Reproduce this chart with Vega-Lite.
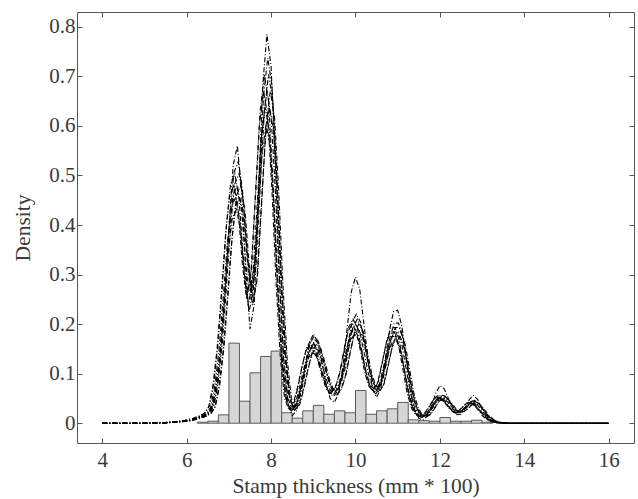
{
"$schema": "https://vega.github.io/schema/vega-lite/v6.json",
"width": 557, "height": 431,
"autosize": {"type": "none"},
"padding": {"left": 77, "top": 12, "right": 4, "bottom": 56},
"background": "white",
"datasets": {
"bars": [
{"x0":6.25,"x1":6.5,"d":0.002},{"x0":6.5,"x1":6.75,"d":0.004},{"x0":6.75,"x1":7.0,"d":0.0168},{"x0":7.0,"x1":7.25,"d":0.1616},{"x0":7.25,"x1":7.5,"d":0.0444},{"x0":7.5,"x1":7.75,"d":0.1017},{"x0":7.75,"x1":8.0,"d":0.1347},{"x0":8.0,"x1":8.25,"d":0.1455},{"x0":8.25,"x1":8.5,"d":0.021},{"x0":8.5,"x1":8.75,"d":0.0101},{"x0":8.75,"x1":9.0,"d":0.0249},{"x0":9.0,"x1":9.25,"d":0.036},{"x0":9.25,"x1":9.5,"d":0.018},{"x0":9.5,"x1":9.75,"d":0.025},{"x0":9.75,"x1":10.0,"d":0.021},{"x0":10.0,"x1":10.25,"d":0.066},{"x0":10.25,"x1":10.5,"d":0.018},{"x0":10.5,"x1":10.75,"d":0.025},{"x0":10.75,"x1":11.0,"d":0.029},{"x0":11.0,"x1":11.25,"d":0.042},{"x0":11.25,"x1":11.5,"d":0.0067},{"x0":11.5,"x1":11.75,"d":0.005},{"x0":11.75,"x1":12.0,"d":0.004},{"x0":12.0,"x1":12.25,"d":0.0115},{"x0":12.25,"x1":12.5,"d":0.004},{"x0":12.5,"x1":12.75,"d":0.004},{"x0":12.75,"x1":13.0,"d":0.006},{"x0":13.0,"x1":13.25,"d":0.002}
],
"curves": [
{"c":1,"x":4,"y":0},{"c":1,"x":5,"y":0},{"c":1,"x":5.5,"y":0.001},{"c":1,"x":5.8,"y":0.003},{"c":1,"x":6,"y":0.005},{"c":1,"x":6.2,"y":0.009},{"c":1,"x":6.4,"y":0.015},
{"c":1,"x":6.5,"y":0.02},{"c":1,"x":6.6,"y":0.033},{"c":1,"x":6.7,"y":0.075},{"c":1,"x":6.8,"y":0.15},{"c":1,"x":6.9,"y":0.26},{"c":1,"x":7,"y":0.38},{"c":1,"x":7.1,"y":0.46},{"c":1,"x":7.2,"y":0.48},{"c":1,"x":7.3,"y":0.43},{"c":1,"x":7.4,"y":0.32},{"c":1,"x":7.5,"y":0.25},{"c":1,"x":7.6,"y":0.3},{"c":1,"x":7.7,"y":0.45},{"c":1,"x":7.8,"y":0.6},{"c":1,"x":7.9,"y":0.67},{"c":1,"x":8,"y":0.62},{"c":1,"x":8.1,"y":0.47},{"c":1,"x":8.2,"y":0.28},{"c":1,"x":8.3,"y":0.13},{"c":1,"x":8.4,"y":0.05},{"c":1,"x":8.5,"y":0.027},{"c":1,"x":8.6,"y":0.038},{"c":1,"x":8.7,"y":0.07},{"c":1,"x":8.8,"y":0.11},{"c":1,"x":8.9,"y":0.145},{"c":1,"x":9,"y":0.16},{"c":1,"x":9.1,"y":0.15},{"c":1,"x":9.2,"y":0.122},{"c":1,"x":9.3,"y":0.09},{"c":1,"x":9.4,"y":0.067},{"c":1,"x":9.5,"y":0.06},{"c":1,"x":9.6,"y":0.072},{"c":1,"x":9.7,"y":0.1},{"c":1,"x":9.8,"y":0.145},{"c":1,"x":9.9,"y":0.185},{"c":1,"x":10,"y":0.2},{"c":1,"x":10.1,"y":0.185},{"c":1,"x":10.2,"y":0.145},{"c":1,"x":10.3,"y":0.102},{"c":1,"x":10.4,"y":0.074},{"c":1,"x":10.5,"y":0.066},{"c":1,"x":10.6,"y":0.08},{"c":1,"x":10.7,"y":0.118},{"c":1,"x":10.8,"y":0.158},{"c":1,"x":10.9,"y":0.184},{"c":1,"x":11,"y":0.184},{"c":1,"x":11.1,"y":0.158},{"c":1,"x":11.2,"y":0.11},{"c":1,"x":11.3,"y":0.062},{"c":1,"x":11.4,"y":0.032},{"c":1,"x":11.5,"y":0.017},{"c":1,"x":11.6,"y":0.013},{"c":1,"x":11.7,"y":0.018},{"c":1,"x":11.8,"y":0.03},{"c":1,"x":11.9,"y":0.044},{"c":1,"x":12,"y":0.052},{"c":1,"x":12.1,"y":0.05},{"c":1,"x":12.2,"y":0.041},{"c":1,"x":12.3,"y":0.029},{"c":1,"x":12.4,"y":0.022},{"c":1,"x":12.5,"y":0.024},{"c":1,"x":12.6,"y":0.031},{"c":1,"x":12.7,"y":0.039},{"c":1,"x":12.8,"y":0.042},{"c":1,"x":12.9,"y":0.036},{"c":1,"x":13,"y":0.025},{"c":1,"x":13.1,"y":0.014},{"c":1,"x":13.2,"y":0.007},{"c":1,"x":13.3,"y":0.003},{"c":1,"x":13.4,"y":0.001},{"c":1,"x":13.6,"y":0},{"c":1,"x":16,"y":0},

{"c":2,"x":4,"y":0},{"c":2,"x":5.04,"y":0},{"c":2,"x":5.54,"y":0.001},{"c":2,"x":5.84,"y":0.003},{"c":2,"x":6.04,"y":0.005},{"c":2,"x":6.24,"y":0.009},{"c":2,"x":6.44,"y":0.016},
{"c":2,"x":6.54,"y":0.021},{"c":2,"x":6.64,"y":0.035},{"c":2,"x":6.74,"y":0.079},{"c":2,"x":6.84,"y":0.158},{"c":2,"x":6.94,"y":0.273},{"c":2,"x":7.04,"y":0.399},{"c":2,"x":7.14,"y":0.483},{"c":2,"x":7.24,"y":0.504},{"c":2,"x":7.34,"y":0.452},{"c":2,"x":7.44,"y":0.336},{"c":2,"x":7.54,"y":0.263},{"c":2,"x":7.64,"y":0.315},{"c":2,"x":7.74,"y":0.473},{"c":2,"x":7.84,"y":0.63},{"c":2,"x":7.94,"y":0.704},{"c":2,"x":8.04,"y":0.651},{"c":2,"x":8.14,"y":0.494},{"c":2,"x":8.24,"y":0.294},{"c":2,"x":8.34,"y":0.137},{"c":2,"x":8.44,"y":0.053},{"c":2,"x":8.54,"y":0.028},{"c":2,"x":8.64,"y":0.04},{"c":2,"x":8.74,"y":0.074},{"c":2,"x":8.84,"y":0.116},{"c":2,"x":8.94,"y":0.152},{"c":2,"x":9.04,"y":0.168},{"c":2,"x":9.14,"y":0.158},{"c":2,"x":9.24,"y":0.128},{"c":2,"x":9.34,"y":0.095},{"c":2,"x":9.44,"y":0.07},{"c":2,"x":9.54,"y":0.063},{"c":2,"x":9.64,"y":0.076},{"c":2,"x":9.74,"y":0.105},{"c":2,"x":9.84,"y":0.152},{"c":2,"x":9.94,"y":0.194},{"c":2,"x":10.04,"y":0.21},{"c":2,"x":10.14,"y":0.194},{"c":2,"x":10.24,"y":0.152},{"c":2,"x":10.34,"y":0.107},{"c":2,"x":10.44,"y":0.078},{"c":2,"x":10.54,"y":0.069},{"c":2,"x":10.64,"y":0.084},{"c":2,"x":10.74,"y":0.124},{"c":2,"x":10.84,"y":0.166},{"c":2,"x":10.94,"y":0.193},{"c":2,"x":11.04,"y":0.193},{"c":2,"x":11.14,"y":0.166},{"c":2,"x":11.24,"y":0.116},{"c":2,"x":11.34,"y":0.065},{"c":2,"x":11.44,"y":0.034},{"c":2,"x":11.54,"y":0.018},{"c":2,"x":11.64,"y":0.014},{"c":2,"x":11.74,"y":0.019},{"c":2,"x":11.84,"y":0.032},{"c":2,"x":11.94,"y":0.046},{"c":2,"x":12.04,"y":0.055},{"c":2,"x":12.14,"y":0.053},{"c":2,"x":12.24,"y":0.043},{"c":2,"x":12.34,"y":0.03},{"c":2,"x":12.44,"y":0.023},{"c":2,"x":12.54,"y":0.025},{"c":2,"x":12.64,"y":0.033},{"c":2,"x":12.74,"y":0.041},{"c":2,"x":12.84,"y":0.044},{"c":2,"x":12.94,"y":0.038},{"c":2,"x":13.04,"y":0.026},{"c":2,"x":13.14,"y":0.015},{"c":2,"x":13.24,"y":0.007},{"c":2,"x":13.34,"y":0.003},{"c":2,"x":13.44,"y":0.001},{"c":2,"x":13.64,"y":0},{"c":2,"x":16,"y":0},

{"c":3,"x":4,"y":0},{"c":3,"x":4.96,"y":0},{"c":3,"x":5.46,"y":0.001},{"c":3,"x":5.76,"y":0.003},{"c":3,"x":5.96,"y":0.005},{"c":3,"x":6.16,"y":0.009},{"c":3,"x":6.36,"y":0.014},
{"c":3,"x":6.46,"y":0.019},{"c":3,"x":6.56,"y":0.031},{"c":3,"x":6.66,"y":0.071},{"c":3,"x":6.76,"y":0.143},{"c":3,"x":6.86,"y":0.247},{"c":3,"x":6.96,"y":0.361},{"c":3,"x":7.06,"y":0.437},{"c":3,"x":7.16,"y":0.456},{"c":3,"x":7.26,"y":0.409},{"c":3,"x":7.36,"y":0.304},{"c":3,"x":7.46,"y":0.238},{"c":3,"x":7.56,"y":0.285},{"c":3,"x":7.66,"y":0.428},{"c":3,"x":7.76,"y":0.57},{"c":3,"x":7.86,"y":0.637},{"c":3,"x":7.96,"y":0.589},{"c":3,"x":8.06,"y":0.447},{"c":3,"x":8.16,"y":0.266},{"c":3,"x":8.26,"y":0.124},{"c":3,"x":8.36,"y":0.048},{"c":3,"x":8.46,"y":0.026},{"c":3,"x":8.56,"y":0.036},{"c":3,"x":8.66,"y":0.067},{"c":3,"x":8.76,"y":0.105},{"c":3,"x":8.86,"y":0.138},{"c":3,"x":8.96,"y":0.152},{"c":3,"x":9.06,"y":0.143},{"c":3,"x":9.16,"y":0.116},{"c":3,"x":9.26,"y":0.086},{"c":3,"x":9.36,"y":0.064},{"c":3,"x":9.46,"y":0.057},{"c":3,"x":9.56,"y":0.068},{"c":3,"x":9.66,"y":0.095},{"c":3,"x":9.76,"y":0.138},{"c":3,"x":9.86,"y":0.176},{"c":3,"x":9.96,"y":0.19},{"c":3,"x":10.06,"y":0.176},{"c":3,"x":10.16,"y":0.138},{"c":3,"x":10.26,"y":0.097},{"c":3,"x":10.36,"y":0.07},{"c":3,"x":10.46,"y":0.063},{"c":3,"x":10.56,"y":0.076},{"c":3,"x":10.66,"y":0.112},{"c":3,"x":10.76,"y":0.15},{"c":3,"x":10.86,"y":0.175},{"c":3,"x":10.96,"y":0.175},{"c":3,"x":11.06,"y":0.15},{"c":3,"x":11.16,"y":0.105},{"c":3,"x":11.26,"y":0.059},{"c":3,"x":11.36,"y":0.03},{"c":3,"x":11.46,"y":0.016},{"c":3,"x":11.56,"y":0.012},{"c":3,"x":11.66,"y":0.017},{"c":3,"x":11.76,"y":0.029},{"c":3,"x":11.86,"y":0.042},{"c":3,"x":11.96,"y":0.049},{"c":3,"x":12.06,"y":0.048},{"c":3,"x":12.16,"y":0.039},{"c":3,"x":12.26,"y":0.028},{"c":3,"x":12.36,"y":0.021},{"c":3,"x":12.46,"y":0.023},{"c":3,"x":12.56,"y":0.029},{"c":3,"x":12.66,"y":0.037},{"c":3,"x":12.76,"y":0.04},{"c":3,"x":12.86,"y":0.034},{"c":3,"x":12.96,"y":0.024},{"c":3,"x":13.06,"y":0.013},{"c":3,"x":13.16,"y":0.007},{"c":3,"x":13.26,"y":0.003},{"c":3,"x":13.36,"y":0.001},{"c":3,"x":13.56,"y":0},{"c":3,"x":16,"y":0},

{"c":4,"x":4,"y":0},{"c":4,"x":5.08,"y":0},{"c":4,"x":5.58,"y":0.001},{"c":4,"x":5.88,"y":0.003},{"c":4,"x":6.08,"y":0.005},{"c":4,"x":6.28,"y":0.009},{"c":4,"x":6.48,"y":0.015},
{"c":4,"x":6.58,"y":0.02},{"c":4,"x":6.68,"y":0.033},{"c":4,"x":6.78,"y":0.075},{"c":4,"x":6.88,"y":0.15},{"c":4,"x":6.98,"y":0.26},{"c":4,"x":7.08,"y":0.38},{"c":4,"x":7.18,"y":0.46},{"c":4,"x":7.28,"y":0.48},{"c":4,"x":7.38,"y":0.43},{"c":4,"x":7.48,"y":0.32},{"c":4,"x":7.58,"y":0.25},{"c":4,"x":7.68,"y":0.3},{"c":4,"x":7.78,"y":0.45},{"c":4,"x":7.88,"y":0.6},{"c":4,"x":7.98,"y":0.67},{"c":4,"x":8.08,"y":0.62},{"c":4,"x":8.18,"y":0.47},{"c":4,"x":8.28,"y":0.28},{"c":4,"x":8.38,"y":0.13},{"c":4,"x":8.48,"y":0.05},{"c":4,"x":8.58,"y":0.027},{"c":4,"x":8.68,"y":0.038},{"c":4,"x":8.78,"y":0.07},{"c":4,"x":8.88,"y":0.11},{"c":4,"x":8.98,"y":0.145},{"c":4,"x":9.08,"y":0.16},{"c":4,"x":9.18,"y":0.15},{"c":4,"x":9.28,"y":0.122},{"c":4,"x":9.38,"y":0.09},{"c":4,"x":9.48,"y":0.067},{"c":4,"x":9.58,"y":0.06},{"c":4,"x":9.68,"y":0.072},{"c":4,"x":9.78,"y":0.1},{"c":4,"x":9.88,"y":0.145},{"c":4,"x":9.98,"y":0.185},{"c":4,"x":10.08,"y":0.2},{"c":4,"x":10.18,"y":0.185},{"c":4,"x":10.28,"y":0.145},{"c":4,"x":10.38,"y":0.102},{"c":4,"x":10.48,"y":0.074},{"c":4,"x":10.58,"y":0.066},{"c":4,"x":10.68,"y":0.08},{"c":4,"x":10.78,"y":0.118},{"c":4,"x":10.88,"y":0.158},{"c":4,"x":10.98,"y":0.184},{"c":4,"x":11.08,"y":0.184},{"c":4,"x":11.18,"y":0.158},{"c":4,"x":11.28,"y":0.11},{"c":4,"x":11.38,"y":0.062},{"c":4,"x":11.48,"y":0.032},{"c":4,"x":11.58,"y":0.017},{"c":4,"x":11.68,"y":0.013},{"c":4,"x":11.78,"y":0.018},{"c":4,"x":11.88,"y":0.03},{"c":4,"x":11.98,"y":0.044},{"c":4,"x":12.08,"y":0.052},{"c":4,"x":12.18,"y":0.05},{"c":4,"x":12.28,"y":0.041},{"c":4,"x":12.38,"y":0.029},{"c":4,"x":12.48,"y":0.022},{"c":4,"x":12.58,"y":0.024},{"c":4,"x":12.68,"y":0.031},{"c":4,"x":12.78,"y":0.039},{"c":4,"x":12.88,"y":0.042},{"c":4,"x":12.98,"y":0.036},{"c":4,"x":13.08,"y":0.025},{"c":4,"x":13.18,"y":0.014},{"c":4,"x":13.28,"y":0.007},{"c":4,"x":13.38,"y":0.003},{"c":4,"x":13.48,"y":0.001},{"c":4,"x":13.68,"y":0},{"c":4,"x":16,"y":0},

{"c":5,"x":4,"y":0},{"c":5,"x":4.92,"y":0},{"c":5,"x":5.42,"y":0.001},{"c":5,"x":5.72,"y":0.003},{"c":5,"x":5.92,"y":0.005},{"c":5,"x":6.12,"y":0.009},{"c":5,"x":6.32,"y":0.015},
{"c":5,"x":6.42,"y":0.02},{"c":5,"x":6.52,"y":0.033},{"c":5,"x":6.62,"y":0.075},{"c":5,"x":6.72,"y":0.15},{"c":5,"x":6.82,"y":0.26},{"c":5,"x":6.92,"y":0.38},{"c":5,"x":7.02,"y":0.46},{"c":5,"x":7.12,"y":0.48},{"c":5,"x":7.22,"y":0.43},{"c":5,"x":7.32,"y":0.32},{"c":5,"x":7.42,"y":0.25},{"c":5,"x":7.52,"y":0.3},{"c":5,"x":7.62,"y":0.45},{"c":5,"x":7.72,"y":0.6},{"c":5,"x":7.82,"y":0.67},{"c":5,"x":7.92,"y":0.62},{"c":5,"x":8.02,"y":0.47},{"c":5,"x":8.12,"y":0.28},{"c":5,"x":8.22,"y":0.13},{"c":5,"x":8.32,"y":0.05},{"c":5,"x":8.42,"y":0.027},{"c":5,"x":8.52,"y":0.038},{"c":5,"x":8.62,"y":0.07},{"c":5,"x":8.72,"y":0.11},{"c":5,"x":8.82,"y":0.145},{"c":5,"x":8.92,"y":0.16},{"c":5,"x":9.02,"y":0.15},{"c":5,"x":9.12,"y":0.122},{"c":5,"x":9.22,"y":0.09},{"c":5,"x":9.32,"y":0.067},{"c":5,"x":9.42,"y":0.06},{"c":5,"x":9.52,"y":0.072},{"c":5,"x":9.62,"y":0.1},{"c":5,"x":9.72,"y":0.145},{"c":5,"x":9.82,"y":0.185},{"c":5,"x":9.92,"y":0.2},{"c":5,"x":10.02,"y":0.185},{"c":5,"x":10.12,"y":0.145},{"c":5,"x":10.22,"y":0.102},{"c":5,"x":10.32,"y":0.074},{"c":5,"x":10.42,"y":0.066},{"c":5,"x":10.52,"y":0.08},{"c":5,"x":10.62,"y":0.118},{"c":5,"x":10.72,"y":0.158},{"c":5,"x":10.82,"y":0.184},{"c":5,"x":10.92,"y":0.184},{"c":5,"x":11.02,"y":0.158},{"c":5,"x":11.12,"y":0.11},{"c":5,"x":11.22,"y":0.062},{"c":5,"x":11.32,"y":0.032},{"c":5,"x":11.42,"y":0.017},{"c":5,"x":11.52,"y":0.013},{"c":5,"x":11.62,"y":0.018},{"c":5,"x":11.72,"y":0.03},{"c":5,"x":11.82,"y":0.044},{"c":5,"x":11.92,"y":0.052},{"c":5,"x":12.02,"y":0.05},{"c":5,"x":12.12,"y":0.041},{"c":5,"x":12.22,"y":0.029},{"c":5,"x":12.32,"y":0.022},{"c":5,"x":12.42,"y":0.024},{"c":5,"x":12.52,"y":0.031},{"c":5,"x":12.62,"y":0.039},{"c":5,"x":12.72,"y":0.042},{"c":5,"x":12.82,"y":0.036},{"c":5,"x":12.92,"y":0.025},{"c":5,"x":13.02,"y":0.014},{"c":5,"x":13.12,"y":0.007},{"c":5,"x":13.22,"y":0.003},{"c":5,"x":13.32,"y":0.001},{"c":5,"x":13.52,"y":0},{"c":5,"x":16,"y":0},

{"c":6,"x":4,"y":0},{"c":6,"x":5.02,"y":0},{"c":6,"x":5.52,"y":0.001},{"c":6,"x":5.82,"y":0.003},{"c":6,"x":6.02,"y":0.006},{"c":6,"x":6.22,"y":0.01},{"c":6,"x":6.42,"y":0.017},
{"c":6,"x":6.52,"y":0.022},{"c":6,"x":6.62,"y":0.036},{"c":6,"x":6.72,"y":0.083},{"c":6,"x":6.82,"y":0.165},{"c":6,"x":6.92,"y":0.286},{"c":6,"x":7.02,"y":0.418},{"c":6,"x":7.12,"y":0.506},{"c":6,"x":7.22,"y":0.528},{"c":6,"x":7.32,"y":0.473},{"c":6,"x":7.42,"y":0.352},{"c":6,"x":7.52,"y":0.275},{"c":6,"x":7.62,"y":0.33},{"c":6,"x":7.72,"y":0.495},{"c":6,"x":7.82,"y":0.66},{"c":6,"x":7.92,"y":0.737},{"c":6,"x":8.02,"y":0.682},{"c":6,"x":8.12,"y":0.517},{"c":6,"x":8.22,"y":0.308},{"c":6,"x":8.32,"y":0.143},{"c":6,"x":8.42,"y":0.055},{"c":6,"x":8.52,"y":0.03},{"c":6,"x":8.62,"y":0.042},{"c":6,"x":8.72,"y":0.077},{"c":6,"x":8.82,"y":0.121},{"c":6,"x":8.92,"y":0.16},{"c":6,"x":9.02,"y":0.176},{"c":6,"x":9.12,"y":0.165},{"c":6,"x":9.22,"y":0.134},{"c":6,"x":9.32,"y":0.099},{"c":6,"x":9.42,"y":0.074},{"c":6,"x":9.52,"y":0.066},{"c":6,"x":9.62,"y":0.079},{"c":6,"x":9.72,"y":0.11},{"c":6,"x":9.82,"y":0.16},{"c":6,"x":9.92,"y":0.204},{"c":6,"x":10.02,"y":0.22},{"c":6,"x":10.12,"y":0.204},{"c":6,"x":10.22,"y":0.16},{"c":6,"x":10.32,"y":0.112},{"c":6,"x":10.42,"y":0.081},{"c":6,"x":10.52,"y":0.073},{"c":6,"x":10.62,"y":0.088},{"c":6,"x":10.72,"y":0.13},{"c":6,"x":10.82,"y":0.174},{"c":6,"x":10.92,"y":0.202},{"c":6,"x":11.02,"y":0.202},{"c":6,"x":11.12,"y":0.174},{"c":6,"x":11.22,"y":0.121},{"c":6,"x":11.32,"y":0.068},{"c":6,"x":11.42,"y":0.035},{"c":6,"x":11.52,"y":0.019},{"c":6,"x":11.62,"y":0.014},{"c":6,"x":11.72,"y":0.02},{"c":6,"x":11.82,"y":0.033},{"c":6,"x":11.92,"y":0.048},{"c":6,"x":12.02,"y":0.057},{"c":6,"x":12.12,"y":0.055},{"c":6,"x":12.22,"y":0.045},{"c":6,"x":12.32,"y":0.032},{"c":6,"x":12.42,"y":0.024},{"c":6,"x":12.52,"y":0.026},{"c":6,"x":12.62,"y":0.034},{"c":6,"x":12.72,"y":0.043},{"c":6,"x":12.82,"y":0.046},{"c":6,"x":12.92,"y":0.04},{"c":6,"x":13.02,"y":0.028},{"c":6,"x":13.12,"y":0.015},{"c":6,"x":13.22,"y":0.008},{"c":6,"x":13.32,"y":0.003},{"c":6,"x":13.42,"y":0.001},{"c":6,"x":13.62,"y":0},{"c":6,"x":16,"y":0},

{"c":7,"x":4,"y":0},{"c":7,"x":4.98,"y":0},{"c":7,"x":5.48,"y":0.001},{"c":7,"x":5.78,"y":0.003},{"c":7,"x":5.98,"y":0.005},{"c":7,"x":6.18,"y":0.008},{"c":7,"x":6.38,"y":0.014},
{"c":7,"x":6.48,"y":0.018},{"c":7,"x":6.58,"y":0.03},{"c":7,"x":6.68,"y":0.068},{"c":7,"x":6.78,"y":0.135},{"c":7,"x":6.88,"y":0.234},{"c":7,"x":6.98,"y":0.342},{"c":7,"x":7.08,"y":0.414},{"c":7,"x":7.18,"y":0.432},{"c":7,"x":7.28,"y":0.387},{"c":7,"x":7.38,"y":0.288},{"c":7,"x":7.48,"y":0.225},{"c":7,"x":7.58,"y":0.27},{"c":7,"x":7.68,"y":0.405},{"c":7,"x":7.78,"y":0.54},{"c":7,"x":7.88,"y":0.603},{"c":7,"x":7.98,"y":0.558},{"c":7,"x":8.08,"y":0.423},{"c":7,"x":8.18,"y":0.252},{"c":7,"x":8.28,"y":0.117},{"c":7,"x":8.38,"y":0.045},{"c":7,"x":8.48,"y":0.024},{"c":7,"x":8.58,"y":0.034},{"c":7,"x":8.68,"y":0.063},{"c":7,"x":8.78,"y":0.099},{"c":7,"x":8.88,"y":0.131},{"c":7,"x":8.98,"y":0.144},{"c":7,"x":9.08,"y":0.135},{"c":7,"x":9.18,"y":0.11},{"c":7,"x":9.28,"y":0.081},{"c":7,"x":9.38,"y":0.06},{"c":7,"x":9.48,"y":0.054},{"c":7,"x":9.58,"y":0.065},{"c":7,"x":9.68,"y":0.09},{"c":7,"x":9.78,"y":0.131},{"c":7,"x":9.88,"y":0.167},{"c":7,"x":9.98,"y":0.18},{"c":7,"x":10.08,"y":0.167},{"c":7,"x":10.18,"y":0.131},{"c":7,"x":10.28,"y":0.092},{"c":7,"x":10.38,"y":0.067},{"c":7,"x":10.48,"y":0.059},{"c":7,"x":10.58,"y":0.072},{"c":7,"x":10.68,"y":0.106},{"c":7,"x":10.78,"y":0.142},{"c":7,"x":10.88,"y":0.166},{"c":7,"x":10.98,"y":0.166},{"c":7,"x":11.08,"y":0.142},{"c":7,"x":11.18,"y":0.099},{"c":7,"x":11.28,"y":0.056},{"c":7,"x":11.38,"y":0.029},{"c":7,"x":11.48,"y":0.015},{"c":7,"x":11.58,"y":0.012},{"c":7,"x":11.68,"y":0.016},{"c":7,"x":11.78,"y":0.027},{"c":7,"x":11.88,"y":0.04},{"c":7,"x":11.98,"y":0.047},{"c":7,"x":12.08,"y":0.045},{"c":7,"x":12.18,"y":0.037},{"c":7,"x":12.28,"y":0.026},{"c":7,"x":12.38,"y":0.02},{"c":7,"x":12.48,"y":0.022},{"c":7,"x":12.58,"y":0.028},{"c":7,"x":12.68,"y":0.035},{"c":7,"x":12.78,"y":0.038},{"c":7,"x":12.88,"y":0.032},{"c":7,"x":12.98,"y":0.023},{"c":7,"x":13.08,"y":0.013},{"c":7,"x":13.18,"y":0.006},{"c":7,"x":13.28,"y":0.003},{"c":7,"x":13.38,"y":0.001},{"c":7,"x":13.58,"y":0},{"c":7,"x":16,"y":0},

{"c":8,"x":4,"y":0},{"c":8,"x":5,"y":0},{"c":8,"x":5.5,"y":0.001},{"c":8,"x":5.8,"y":0.002},{"c":8,"x":6,"y":0.004},{"c":8,"x":6.2,"y":0.007},{"c":8,"x":6.4,"y":0.012},
{"c":8,"x":6.5,"y":0.017},{"c":8,"x":6.6,"y":0.028},{"c":8,"x":6.7,"y":0.06},{"c":8,"x":6.8,"y":0.13},{"c":8,"x":6.9,"y":0.25},{"c":8,"x":7,"y":0.39},{"c":8,"x":7.1,"y":0.52},{"c":8,"x":7.2,"y":0.56},{"c":8,"x":7.3,"y":0.47},{"c":8,"x":7.4,"y":0.31},{"c":8,"x":7.5,"y":0.19},{"c":8,"x":7.6,"y":0.24},{"c":8,"x":7.7,"y":0.46},{"c":8,"x":7.8,"y":0.68},{"c":8,"x":7.9,"y":0.785},{"c":8,"x":8,"y":0.72},{"c":8,"x":8.1,"y":0.52},{"c":8,"x":8.2,"y":0.29},{"c":8,"x":8.3,"y":0.12},{"c":8,"x":8.4,"y":0.04},{"c":8,"x":8.5,"y":0.015},{"c":8,"x":8.6,"y":0.025},{"c":8,"x":8.7,"y":0.06},{"c":8,"x":8.8,"y":0.11},{"c":8,"x":8.9,"y":0.16},{"c":8,"x":9,"y":0.18},{"c":8,"x":9.1,"y":0.165},{"c":8,"x":9.2,"y":0.125},{"c":8,"x":9.3,"y":0.08},{"c":8,"x":9.4,"y":0.05},{"c":8,"x":9.5,"y":0.042},{"c":8,"x":9.6,"y":0.06},{"c":8,"x":9.7,"y":0.11},{"c":8,"x":9.8,"y":0.19},{"c":8,"x":9.9,"y":0.265},{"c":8,"x":10,"y":0.295},{"c":8,"x":10.1,"y":0.27},{"c":8,"x":10.2,"y":0.2},{"c":8,"x":10.3,"y":0.125},{"c":8,"x":10.4,"y":0.07},{"c":8,"x":10.5,"y":0.052},{"c":8,"x":10.6,"y":0.07},{"c":8,"x":10.7,"y":0.125},{"c":8,"x":10.8,"y":0.185},{"c":8,"x":10.9,"y":0.225},{"c":8,"x":11,"y":0.228},{"c":8,"x":11.1,"y":0.195},{"c":8,"x":11.2,"y":0.13},{"c":8,"x":11.3,"y":0.065},{"c":8,"x":11.4,"y":0.028},{"c":8,"x":11.5,"y":0.01},{"c":8,"x":11.6,"y":0.006},{"c":8,"x":11.7,"y":0.014},{"c":8,"x":11.8,"y":0.035},{"c":8,"x":11.9,"y":0.06},{"c":8,"x":12,"y":0.076},{"c":8,"x":12.1,"y":0.07},{"c":8,"x":12.2,"y":0.05},{"c":8,"x":12.3,"y":0.03},{"c":8,"x":12.4,"y":0.017},{"c":8,"x":12.5,"y":0.018},{"c":8,"x":12.6,"y":0.03},{"c":8,"x":12.7,"y":0.048},{"c":8,"x":12.8,"y":0.056},{"c":8,"x":12.9,"y":0.047},{"c":8,"x":13,"y":0.03},{"c":8,"x":13.1,"y":0.015},{"c":8,"x":13.2,"y":0.006},{"c":8,"x":13.3,"y":0.002},{"c":8,"x":13.4,"y":0.001},{"c":8,"x":13.6,"y":0},{"c":8,"x":16,"y":0},

{"c":9,"x":4,"y":0},{"c":9,"x":4.94,"y":0},{"c":9,"x":5.44,"y":0.001},{"c":9,"x":5.74,"y":0.003},{"c":9,"x":5.94,"y":0.005},{"c":9,"x":6.14,"y":0.009},{"c":9,"x":6.34,"y":0.016},
{"c":9,"x":6.44,"y":0.021},{"c":9,"x":6.54,"y":0.035},{"c":9,"x":6.64,"y":0.079},{"c":9,"x":6.74,"y":0.158},{"c":9,"x":6.84,"y":0.273},{"c":9,"x":6.94,"y":0.399},{"c":9,"x":7.04,"y":0.483},{"c":9,"x":7.14,"y":0.504},{"c":9,"x":7.24,"y":0.452},{"c":9,"x":7.34,"y":0.336},{"c":9,"x":7.44,"y":0.263},{"c":9,"x":7.54,"y":0.315},{"c":9,"x":7.64,"y":0.473},{"c":9,"x":7.74,"y":0.63},{"c":9,"x":7.84,"y":0.704},{"c":9,"x":7.94,"y":0.651},{"c":9,"x":8.04,"y":0.494},{"c":9,"x":8.14,"y":0.294},{"c":9,"x":8.24,"y":0.137},{"c":9,"x":8.34,"y":0.053},{"c":9,"x":8.44,"y":0.028},{"c":9,"x":8.54,"y":0.04},{"c":9,"x":8.64,"y":0.074},{"c":9,"x":8.74,"y":0.116},{"c":9,"x":8.84,"y":0.152},{"c":9,"x":8.94,"y":0.168},{"c":9,"x":9.04,"y":0.158},{"c":9,"x":9.14,"y":0.128},{"c":9,"x":9.24,"y":0.095},{"c":9,"x":9.34,"y":0.07},{"c":9,"x":9.44,"y":0.063},{"c":9,"x":9.54,"y":0.076},{"c":9,"x":9.64,"y":0.105},{"c":9,"x":9.74,"y":0.152},{"c":9,"x":9.84,"y":0.194},{"c":9,"x":9.94,"y":0.21},{"c":9,"x":10.04,"y":0.194},{"c":9,"x":10.14,"y":0.152},{"c":9,"x":10.24,"y":0.107},{"c":9,"x":10.34,"y":0.078},{"c":9,"x":10.44,"y":0.069},{"c":9,"x":10.54,"y":0.084},{"c":9,"x":10.64,"y":0.124},{"c":9,"x":10.74,"y":0.166},{"c":9,"x":10.84,"y":0.193},{"c":9,"x":10.94,"y":0.193},{"c":9,"x":11.04,"y":0.166},{"c":9,"x":11.14,"y":0.116},{"c":9,"x":11.24,"y":0.065},{"c":9,"x":11.34,"y":0.034},{"c":9,"x":11.44,"y":0.018},{"c":9,"x":11.54,"y":0.014},{"c":9,"x":11.64,"y":0.019},{"c":9,"x":11.74,"y":0.032},{"c":9,"x":11.84,"y":0.046},{"c":9,"x":11.94,"y":0.055},{"c":9,"x":12.04,"y":0.053},{"c":9,"x":12.14,"y":0.043},{"c":9,"x":12.24,"y":0.03},{"c":9,"x":12.34,"y":0.023},{"c":9,"x":12.44,"y":0.025},{"c":9,"x":12.54,"y":0.033},{"c":9,"x":12.64,"y":0.041},{"c":9,"x":12.74,"y":0.044},{"c":9,"x":12.84,"y":0.038},{"c":9,"x":12.94,"y":0.026},{"c":9,"x":13.04,"y":0.015},{"c":9,"x":13.14,"y":0.007},{"c":9,"x":13.24,"y":0.003},{"c":9,"x":13.34,"y":0.001},{"c":9,"x":13.54,"y":0},{"c":9,"x":16,"y":0},

{"c":10,"x":4,"y":0},{"c":10,"x":5.06,"y":0},{"c":10,"x":5.56,"y":0.001},{"c":10,"x":5.86,"y":0.003},{"c":10,"x":6.06,"y":0.005},{"c":10,"x":6.26,"y":0.009},{"c":10,"x":6.46,"y":0.014},
{"c":10,"x":6.56,"y":0.019},{"c":10,"x":6.66,"y":0.031},{"c":10,"x":6.76,"y":0.071},{"c":10,"x":6.86,"y":0.143},{"c":10,"x":6.96,"y":0.247},{"c":10,"x":7.06,"y":0.361},{"c":10,"x":7.16,"y":0.437},{"c":10,"x":7.26,"y":0.456},{"c":10,"x":7.36,"y":0.409},{"c":10,"x":7.46,"y":0.304},{"c":10,"x":7.56,"y":0.238},{"c":10,"x":7.66,"y":0.285},{"c":10,"x":7.76,"y":0.428},{"c":10,"x":7.86,"y":0.57},{"c":10,"x":7.96,"y":0.637},{"c":10,"x":8.06,"y":0.589},{"c":10,"x":8.16,"y":0.447},{"c":10,"x":8.26,"y":0.266},{"c":10,"x":8.36,"y":0.124},{"c":10,"x":8.46,"y":0.048},{"c":10,"x":8.56,"y":0.026},{"c":10,"x":8.66,"y":0.036},{"c":10,"x":8.76,"y":0.067},{"c":10,"x":8.86,"y":0.105},{"c":10,"x":8.96,"y":0.138},{"c":10,"x":9.06,"y":0.152},{"c":10,"x":9.16,"y":0.143},{"c":10,"x":9.26,"y":0.116},{"c":10,"x":9.36,"y":0.086},{"c":10,"x":9.46,"y":0.064},{"c":10,"x":9.56,"y":0.057},{"c":10,"x":9.66,"y":0.068},{"c":10,"x":9.76,"y":0.095},{"c":10,"x":9.86,"y":0.138},{"c":10,"x":9.96,"y":0.176},{"c":10,"x":10.06,"y":0.19},{"c":10,"x":10.16,"y":0.176},{"c":10,"x":10.26,"y":0.138},{"c":10,"x":10.36,"y":0.097},{"c":10,"x":10.46,"y":0.07},{"c":10,"x":10.56,"y":0.063},{"c":10,"x":10.66,"y":0.076},{"c":10,"x":10.76,"y":0.112},{"c":10,"x":10.86,"y":0.15},{"c":10,"x":10.96,"y":0.175},{"c":10,"x":11.06,"y":0.175},{"c":10,"x":11.16,"y":0.15},{"c":10,"x":11.26,"y":0.105},{"c":10,"x":11.36,"y":0.059},{"c":10,"x":11.46,"y":0.03},{"c":10,"x":11.56,"y":0.016},{"c":10,"x":11.66,"y":0.012},{"c":10,"x":11.76,"y":0.017},{"c":10,"x":11.86,"y":0.029},{"c":10,"x":11.96,"y":0.042},{"c":10,"x":12.06,"y":0.049},{"c":10,"x":12.16,"y":0.048},{"c":10,"x":12.26,"y":0.039},{"c":10,"x":12.36,"y":0.028},{"c":10,"x":12.46,"y":0.021},{"c":10,"x":12.56,"y":0.023},{"c":10,"x":12.66,"y":0.029},{"c":10,"x":12.76,"y":0.037},{"c":10,"x":12.86,"y":0.04},{"c":10,"x":12.96,"y":0.034},{"c":10,"x":13.06,"y":0.024},{"c":10,"x":13.16,"y":0.013},{"c":10,"x":13.26,"y":0.007},{"c":10,"x":13.36,"y":0.003},{"c":10,"x":13.46,"y":0.001},{"c":10,"x":13.66,"y":0},{"c":10,"x":16,"y":0}
]
},
"layer": [
{
"data": {"name": "bars"},
"mark": {"type": "bar", "fill": "#d6d6d6", "stroke": "#5a5a5a", "strokeWidth": 1},
"encoding": {
"x": {"field": "x0", "type": "quantitative", "scale": {"domain": [3.4, 16.6], "nice": false, "zero": false},
"axis": {"orient": "bottom", "values": [4,6,8,10,12,14,16], "title": "Stamp thickness (mm * 100)", "labelPadding": 11, "titlePadding": 5}},
"x2": {"field": "x1"},
"y": {"field": "d", "type": "quantitative", "scale": {"domain": [-0.04, 0.83], "nice": false, "zero": false},
"axis": {"orient": "left", "values": [0,0.1,0.2,0.3,0.4,0.5,0.6,0.7,0.8], "format": ".1~f", "title": "Density", "labelPadding": 7, "titlePadding": 14}},
"y2": {"datum": 0}
}
},
{
"data": {"name": "curves"},
"mark": {"type": "line", "stroke": "black", "strokeWidth": 1.1, "strokeDash": [5, 2, 1, 2]},
"encoding": {
"x": {"field": "x", "type": "quantitative", "axis": {"orient": "top", "values": [4,6,8,10,12,14,16], "labels": false, "title": null}},
"y": {"field": "y", "type": "quantitative", "axis": {"orient": "right", "values": [0,0.1,0.2,0.3,0.4,0.5,0.6,0.7,0.8], "labels": false, "title": null}},
"detail": {"field": "c", "type": "nominal"}
}
}
],
"resolve": {"axis": {"x": "independent", "y": "independent"}},
"config": {
"view": {"stroke": "#555555", "strokeWidth": 1},
"axis": {"domain": false, "grid": false, "tickColor": "#555555", "tickSize": -5, "tickWidth": 1,
"labelFont": "Liberation Serif", "labelFontSize": 21, "labelColor": "#3a3a3a",
"titleFont": "Liberation Serif", "titleFontSize": 21.5, "titleFontWeight": "normal", "titleColor": "#3a3a3a"}
}
}
